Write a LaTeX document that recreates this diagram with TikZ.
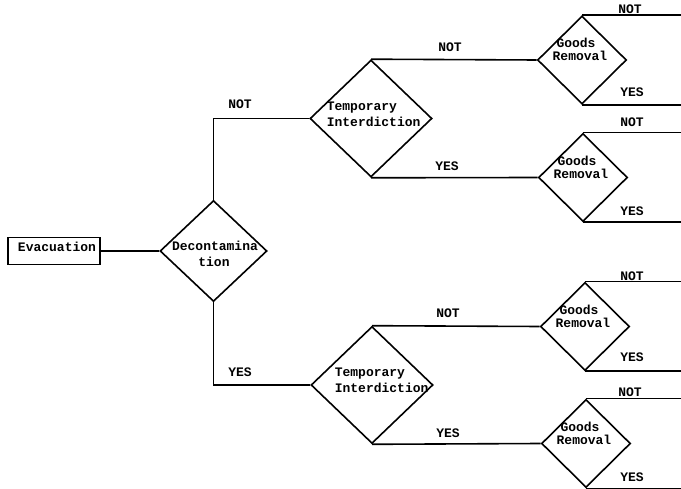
\documentclass[tikz,border=0pt]{standalone}
\usepackage{fontspec}
\newfontfamily\tw{Liberation Mono}
\usetikzlibrary{shapes.geometric}
\begin{document}
\begin{tikzpicture}[x=1pt,y=-1pt,line width=1.6pt,
  dia/.style 2 args={draw,diamond,aspect=1,inner sep=0pt,minimum width=#1,minimum height=#2},
  txt/.style={inner sep=0pt,font=\tw\bfseries\fontsize{13}{13}\selectfont},
  lab/.style={txt}]
\useasboundingbox (0,0) rectangle (681,489);
\coordinate (R) at (681,0);
% nodes
\node[draw,rectangle,minimum width=92pt,minimum height=27pt,inner sep=0pt] (ev) at (54,251) {};
\node[txt] (evt) at (57,247) {Evacuation};
\node[dia={107pt}{101pt}] (dec) at (213.5,251) {};
\node[txt] (dect1) at (215,246) {Decontamina};
\node[txt] (dect2) at (214,262) {tion};
\node[dia={122pt}{117pt}] (ti1) at (371,118.5) {};
\node[txt,anchor=west] (ti1a) at (326,108) {Temporary};
\node[txt,anchor=west] (ti1b) at (326,122) {Interdiction};
\node[dia={122pt}{117pt}] (ti2) at (372,385) {};
\node[txt,anchor=west] (ti2a) at (334,374) {Temporary};
\node[txt,anchor=west] (ti2b) at (334,388) {Interdiction};
\foreach \n/\x/\y in {gr1/582/60, gr2/583/177.5, gr3/585/326.5, gr4/586/443.5}{
  \node[dia={89pt}{88pt}] (\n) at (\x,\y) {};
  \node[txt] (\n a) at ([xshift=-6pt,yshift=17pt]\n.center) {Goods};
  \node[txt] (\n b) at ([xshift=-2pt,yshift=4pt]\n.center) {Removal};
  \draw (\n.north) -- (\n.north -| R);
  \draw (\n.south) -- (\n.south -| R);
}
% connectors
\draw (ev.east |- dec.west) -- (dec.west);
\draw (dec.north) |- (ti1.west);
\draw (dec.south) |- (ti2.west);
\draw (ti1.north) -- (gr1.west);
\draw (ti1.south) -- (gr2.west);
\draw (ti2.north) -- (gr3.west);
\draw (ti2.south) -- (gr4.west);
% labels
\node[lab] (l1) at (240,104) {NOT};
\node[lab] (l2) at (240,372) {YES};
\node[lab] (l3) at (450,47) {NOT};
\node[lab] (l4) at (447,166) {YES};
\node[lab] (l5) at (448,313) {NOT};
\node[lab] (l6) at (448,433) {YES};
\node[lab] (l7) at (630,9) {NOT};
\node[lab] (l8) at (632,92) {YES};
\node[lab] (l9) at (632,122) {NOT};
\node[lab] (l10) at (632,211) {YES};
\node[lab] (l11) at (632,276) {NOT};
\node[lab] (l12) at (632,357) {YES};
\node[lab] (l13) at (630,392) {NOT};
\node[lab] (l14) at (632,477) {YES};
\end{tikzpicture}
\end{document}
